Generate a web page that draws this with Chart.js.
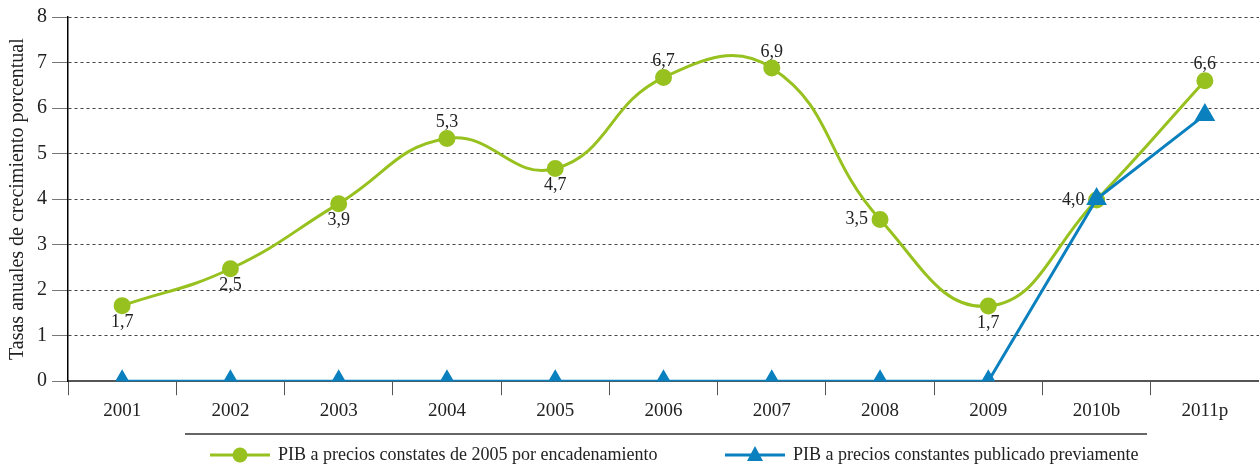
<!DOCTYPE html>
<html>
<head>
<meta charset="utf-8">
<script src="https://cdn.jsdelivr.net/npm/chart.js@4"></script>
<style>
    html, body { margin: 0; padding: 0; background: #fff; overflow: hidden; }
    #wrap { width: 1259px; height: 466px; }
</style>
</head>
<body>
<div id="wrap"><canvas id="pibChart"></canvas></div>
<script>
const YEARS = ["2001", "2002", "2003", "2004", "2005", "2006", "2007", "2008", "2009", "2010b", "2011p"];
const PIB_ENCADENADO = [1.66, 2.47, 3.9, 5.33, 4.67, 6.67, 6.88, 3.55, 1.65, 3.98, 6.6];
const PIB_PREVIO = [0, 0, 0, 0, 0, 0, 0, 0, 0, 4.0, 5.85];
const ENCADENADO_TEXT = ["1,7", "2,5", "3,9", "5,3", "4,7", "6,7", "6,9", "3,5", "1,7", "4,0", "6,6"];
const Y_TICKS = [0, 1, 2, 3, 4, 5, 6, 7, 8];

const GREEN = "#97c11f";
const BLUE = "#0a80bf";
const SERIF = "'Liberation Serif', 'DejaVu Serif', serif";

// where each value label sits relative to its point
const labelPlace = ["below", "below", "below", "above", "below", "above", "above", "left", "below", "left", "above"];

const valueLabels = {
    id: "valueLabels",
    afterDatasetsDraw(chart) {
        const ctx = chart.ctx;
        const meta = chart.getDatasetMeta(0);
        ctx.save();
        ctx.font = "18px " + SERIF;
        ctx.fillStyle = "#222";
        ctx.textBaseline = "middle";
        meta.data.forEach((pt, i) => {
            let x = pt.x, y = pt.y;
            ctx.textAlign = "center";
            if (labelPlace[i] === "below") y += 17;
            else if (labelPlace[i] === "above") y -= 16;
            else { ctx.textAlign = "right"; x -= 12; }
            ctx.fillText(ENCADENADO_TEXT[i], x, y);
        });
        ctx.restore();
    }
};

const bottomLegend = {
    id: "bottomLegend",
    afterDraw(chart) {
        const ctx = chart.ctx;
        ctx.save();
        ctx.strokeStyle = "#333";
        ctx.lineWidth = 1.5;
        ctx.beginPath();
        ctx.moveTo(185, 434);
        ctx.lineTo(1147, 434);
        ctx.stroke();

        ctx.font = "18px " + SERIF;
        ctx.fillStyle = "#222";
        ctx.textBaseline = "middle";
        ctx.textAlign = "left";
        const y = 455;
        const items = [
            { x: 210, ds: chart.data.datasets[0] },
            { x: 725, ds: chart.data.datasets[1] }
        ];
        items.forEach(it => {
            ctx.strokeStyle = it.ds.borderColor;
            ctx.lineWidth = 3;
            ctx.beginPath();
            ctx.moveTo(it.x, y);
            ctx.lineTo(it.x + 60, y);
            ctx.stroke();
            ctx.fillStyle = it.ds.borderColor;
            ctx.beginPath();
            if (it.ds.pointStyle === "triangle") {
                ctx.moveTo(it.x + 30, y - 9);
                ctx.lineTo(it.x + 38, y + 6);
                ctx.lineTo(it.x + 22, y + 6);
                ctx.closePath();
            } else {
                ctx.arc(it.x + 30, y, 7.5, 0, Math.PI * 2);
            }
            ctx.fill();
            ctx.fillStyle = "#222";
            ctx.fillText(it.ds.label, it.x + 68, y);
        });
        ctx.restore();
    }
};

const ctx = document.getElementById("pibChart").getContext("2d");

new Chart(ctx, {
    type: "line",
    data: {
        labels: YEARS,
        datasets: [
            {
                label: "PIB a precios constates de 2005 por encadenamiento",
                data: PIB_ENCADENADO,
                borderColor: GREEN,
                backgroundColor: GREEN,
                borderWidth: 3,
                pointRadius: 7,
                pointHoverRadius: 7,
                pointStyle: "circle",
                tension: 0.45,
                order: 2
            },
            {
                label: "PIB a precios constantes publicado previamente",
                data: PIB_PREVIO,
                borderColor: BLUE,
                backgroundColor: BLUE,
                borderWidth: 3,
                pointRadius: 9,
                pointHoverRadius: 9,
                pointStyle: "triangle",
                tension: 0,
                order: 1
            }
        ]
    },
    options: {
        responsive: true,
        maintainAspectRatio: false,
        animation: false,
        layout: { autoPadding: false, padding: { top: 8, right: -11, bottom: 40, left: 6 } },
        plugins: {
            legend: { display: false },
            tooltip: { enabled: false }
        },
        scales: {
            x: {
                offset: true,
                grid: {
                    offset: true,
                    drawOnChartArea: false,
                    tickLength: 14,
                    color: "#555"
                },
                border: { color: "#555", width: 2 },
                ticks: {
                    color: "#222",
                    padding: 4,
                    font: { family: SERIF, size: 19 }
                }
            },
            y: {
                min: 0,
                max: 8,
                afterBuildTicks(axis) {
                    axis.ticks = Y_TICKS.map(v => ({ value: v }));
                },
                grid: {
                    color: "#444",
                    tickColor: "#777",
                    tickLength: 16,
                    tickBorderDash: [0],
                    lineWidth: 1
                },
                border: { color: "#000", width: 1.5, dash: [3, 3] },
                ticks: {
                    color: "#222",
                    padding: 5,
                    font: { family: SERIF, size: 20 }
                },
                title: {
                    display: true,
                    text: "Tasas anuales de crecimiento porcentual",
                    color: "#222",
                    padding: { top: 0, bottom: 2 },
                    font: { family: SERIF, size: 20 }
                }
            }
        }
    },
    plugins: [valueLabels, bottomLegend]
});
</script>
</body>
</html>
